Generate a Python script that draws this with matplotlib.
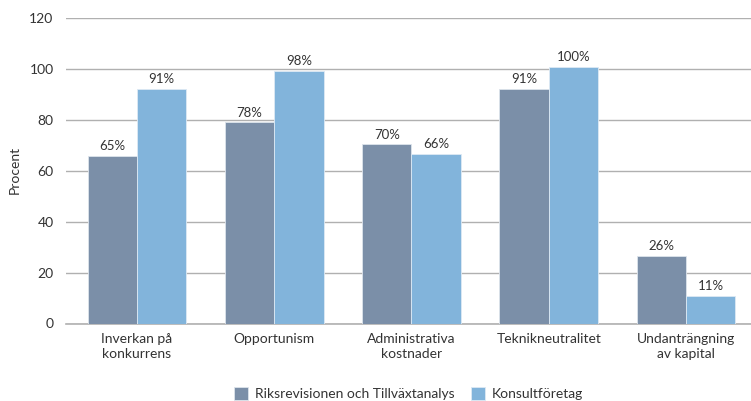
import matplotlib.pyplot as plt
import numpy as np

# === Data ===
kategorier = ["Inverkan på\nkonkurrens", "Opportunism", "Administrativa\nkostnader",
              "Teknikneutralitet", "Undanträngning\nav kapital"]
riksrev = [65.7, 78.9, 70.3, 92.2, 26.6]
konsult = [92.2, 99.0, 66.5, 100.6, 10.7]
riksrev_etiketter = ["65%", "78%", "70%", "91%", "26%"]
konsult_etiketter = ["91%", "98%", "66%", "100%", "11%"]
serier = ["Riksrevisionen och Tillväxtanalys", "Konsultföretag"]

MORK = "#7b8fa8"
LJUS = "#82b4db"
TEXT = "#333333"
GRID = "#b0b0b0"

plt.rcParams['font.family'] = ['Lato', 'DejaVu Sans']

fig = plt.figure(figsize=(7.51, 4.01), dpi=100)
ax = fig.add_axes([66/751, 1 - 323.5/401, (751-66)/751, 305.8/401])

x = np.arange(len(kategorier))
bredd = 0.36
b1 = ax.bar(x - bredd/2, riksrev, bredd, color=MORK, edgecolor="#dde4ec", linewidth=0.6,
            label=serier[0], zorder=3)
b2 = ax.bar(x + bredd/2, konsult, bredd, color=LJUS, edgecolor="#dde9f4", linewidth=0.6,
            label=serier[1], zorder=3)

for rect, txt in zip(b1, riksrev_etiketter):
    ax.text(rect.get_x() + rect.get_width()/2, rect.get_height() + 1.5, txt,
            ha="center", va="bottom", fontsize=9.5, color=TEXT)
for rect, txt in zip(b2, konsult_etiketter):
    ax.text(rect.get_x() + rect.get_width()/2, rect.get_height() + 1.5, txt,
            ha="center", va="bottom", fontsize=9.5, color=TEXT)

ax.set_xlim(-0.517, 4.474)
ax.set_ylim(0, 120)
ax.set_yticks(range(0, 121, 20))
ax.set_xticks(x)
ax.set_xticklabels(kategorier, fontsize=10, color=TEXT, linespacing=1.3)
ax.tick_params(axis="x", length=0, pad=7)
ax.tick_params(axis="y", length=0, pad=9, labelsize=10, labelcolor=TEXT)
ax.grid(axis="y", color=GRID, linewidth=1, zorder=0)
for s in ["top", "right", "left"]:
    ax.spines[s].set_visible(False)
ax.spines["bottom"].set_color(GRID)
ax.spines["bottom"].set_linewidth(1.2)

fig.text(15/751, 1 - 170/401, "Procent", rotation=90, ha="center", va="center",
         fontsize=10, color=TEXT)

ax.legend(loc="center", bbox_to_anchor=(0.5, -0.23), ncol=2, frameon=False,
          fontsize=10, handlelength=1.0, handleheight=1.0, handletextpad=0.5,
          columnspacing=1.2, labelcolor=TEXT)

fig.savefig("out.png", dpi=100)
